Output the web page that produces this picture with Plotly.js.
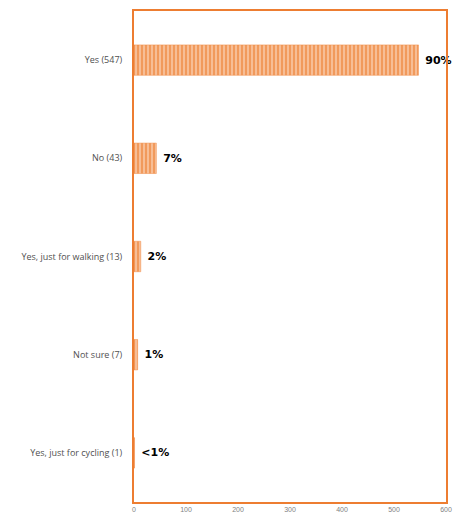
<!DOCTYPE html>
<html>
<head>
<meta charset="utf-8">
<script src="https://cdn.plot.ly/plotly-3.0.1.min.js"></script>
<style>html,body{margin:0;padding:0;background:#fff;}#chart{width:453px;height:521px;}</style>
</head>
<body>
<div id="chart"></div>
<script>
var categories = ["Yes (547)", "No (43)", "Yes, just for walking (13)", "Not sure (7)", "Yes, just for cycling (1)"];
var counts = [547, 43, 13, 7, 1];
var percentLabels = ["90%", "7%", "2%", "1%", "<1%"];
var xTicks = [0, 100, 200, 300, 400, 500, 600];

var trace = {
  type: "bar",
  orientation: "h",
  y: categories,
  x: counts,
  text: percentLabels,
  texttemplate: " %{text}",
  textposition: "outside",
  cliponaxis: false,
  textfont: {family: "DejaVu Sans", size: 11, color: "#000", weight: "bold"},
  marker: {
    color: "#f4a36c",
    line: {color: "#f08a45", width: 0.5},
    pattern: {shape: "|", fgcolor: "#fde3d0", bgcolor: "#f19a5c", size: 4, solidity: 0.25}
  },
  hoverinfo: "none"
};

var layout = {
  width: 453, height: 521,
  margin: {l: 134, r: 7, t: 11, b: 19},
  paper_bgcolor: "#fff", plot_bgcolor: "#fff",
  showlegend: false,
  bargap: 0.69,
  xaxis: {
    range: [0, 600], tickvals: xTicks, ticktext: xTicks.map(String),
    showgrid: false, zeroline: false,
    showline: true, mirror: true, linecolor: "#ed7d31", linewidth: 2,
    ticks: "", tickfont: {family: "Liberation Sans", size: 7, color: "#7f7f7f"},
    fixedrange: true
  },
  yaxis: {
    autorange: "reversed", type: "category",
    showgrid: false, zeroline: false,
    showline: true, mirror: true, linecolor: "#ed7d31", linewidth: 2,
    ticks: "", ticklen: 0, ticklabelstandoff: 8,
    tickfont: {family: "Open Sans", size: 9, color: "#505050"},
    fixedrange: true
  }
};

Plotly.newPlot("chart", [trace], layout, {displayModeBar: false, staticPlot: true});
</script>
</body>
</html>
